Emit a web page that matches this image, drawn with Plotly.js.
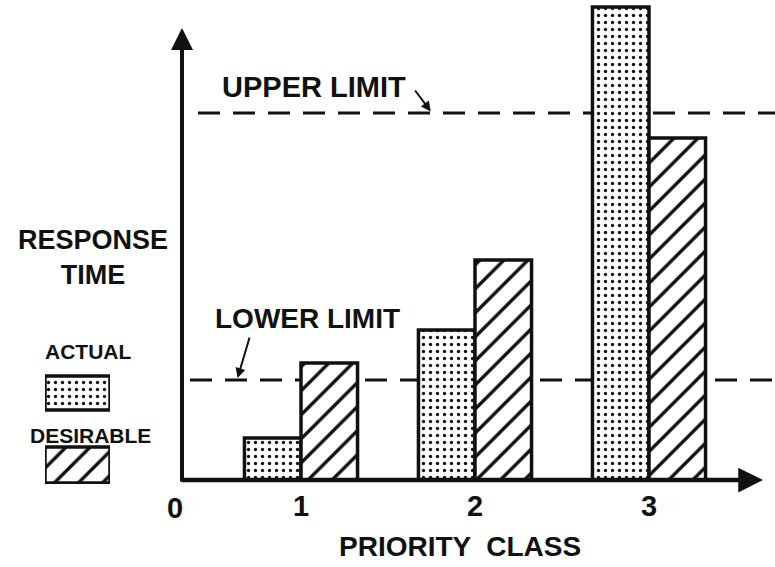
<!DOCTYPE html>
<html>
<head>
<meta charset="utf-8">
<script src="https://cdn.plot.ly/plotly-3.0.1.min.js"></script>
<style>html,body{margin:0;padding:0;background:#fff;}#chart{width:775px;height:567px;}</style>
</head>
<body>
<div id="chart"></div>
<script>
// ---- data ----
const classes = [1, 2, 3];
const classLabels = ['1', '2', '3'];
const actual = [4.2, 15.0, 47.3];
const desirable = [11.7, 22.0, 34.2];
const upperLimit = 36.7;
const lowerLimit = 10.0;
const legendNames = ['ACTUAL', 'DESIRABLE'];
const legendSlots = [91, 19];

const FONT = 'Liberation Sans, Arial, sans-serif';
const W = 775, H = 567;
const xDom = [182 / W, 1];
const yDom = [(H - 480) / H, (H - 5) / H];
const xRange = [1 - (301 - 182) / 174, 1 - (301 - 182) / 174 + (W - 182) / 174];

const dotPattern = {shape: '.', size: 7, solidity: 0.18, fgcolor: '#111', bgcolor: '#fff', fillmode: 'replace'};
const hatchPattern = {shape: '/', size: 17, solidity: 0.2, fgcolor: '#111', bgcolor: '#fff', fillmode: 'replace'};

const traces = [
  {type: 'bar', x: classes, y: actual, name: legendNames[0], showlegend: false,
   marker: {color: '#fff', pattern: dotPattern, line: {color: '#111', width: 3.5}}},
  {type: 'bar', x: classes, y: desirable, name: legendNames[1], showlegend: false,
   marker: {color: '#fff', pattern: hatchPattern, line: {color: '#111', width: 3.5}}},
  // legend swatches
  {type: 'bar', orientation: 'h', x: [1], y: [legendSlots[0]], width: 34, xaxis: 'x2', yaxis: 'y2', showlegend: false, hoverinfo: 'skip',
   marker: {color: '#fff', pattern: dotPattern, line: {color: '#111', width: 3.5}}},
  {type: 'bar', orientation: 'h', x: [1], y: [legendSlots[1]], width: 36, xaxis: 'x2', yaxis: 'y2', showlegend: false, hoverinfo: 'skip',
   marker: {color: '#fff', pattern: hatchPattern, line: {color: '#111', width: 3.5}}}
];

const yTip = 45.2;
const xTip = xRange[0] + (763 - 182) / 174;
const bold = {family: FONT, color: '#111', weight: 'bold'};

const layout = {
  width: W, height: H,
  margin: {l: 0, r: 0, t: 0, b: 0},
  paper_bgcolor: '#fff', plot_bgcolor: '#fff',
  barmode: 'group', bargap: 0.35, bargroupgap: 0,
  showlegend: false,
  font: {family: FONT, color: '#111'},
  xaxis: {domain: xDom, range: xRange, showgrid: false, zeroline: false, showline: false,
          tickvals: classes, ticktext: classLabels, ticks: '', tickfont: Object.assign({size: 29}, bold),
          ticklabelstandoff: 6},
  yaxis: {domain: yDom, range: [0, 47.5], showgrid: false, zeroline: false, showline: false, showticklabels: false, ticks: ''},
  xaxis2: {domain: [45 / W, 110 / W], range: [0, 1], anchor: 'y2', visible: false, fixedrange: true},
  yaxis2: {domain: [(H - 484) / H, (H - 372) / H], range: [0, 112], anchor: 'x2', visible: false, fixedrange: true},
  shapes: [
    {type: 'line', layer: 'below', xref: 'paper', yref: 'y', x0: 198 / W, x1: 1, y0: upperLimit, y1: upperLimit,
     line: {color: '#111', width: 3, dash: '22px,13px'}},
    {type: 'line', layer: 'below', xref: 'paper', yref: 'y', x0: 190 / W, x1: 1, y0: lowerLimit, y1: lowerLimit,
     line: {color: '#111', width: 3, dash: '22px,13px'}}
  ],
  annotations: [
    // axes with arrows
    {xref: 'x', yref: 'y', x: xRange[0], y: yTip, ax: 0, ay: 455, axref: 'pixel', ayref: 'pixel', text: '', showarrow: true,
     arrowhead: 2, arrowsize: 1.1, arrowwidth: 4, arrowcolor: '#111', standoff: 0},
    {xref: 'x', yref: 'y', x: xTip, y: 0, ax: -(763 - 180), ay: 0, text: '', showarrow: true,
     arrowhead: 2, arrowsize: 1.1, arrowwidth: 4.5, arrowcolor: '#111', standoff: 0},
    {xref: 'paper', yref: 'paper', x: 175 / W, y: (H - 508) / H, text: '0', showarrow: false,
     font: Object.assign({size: 29}, bold), xanchor: 'center', yanchor: 'middle'},
    // axis titles
    {xref: 'paper', yref: 'paper', x: 460 / W, y: (H - 546) / H, text: 'PRIORITY  CLASS', showarrow: false,
     font: Object.assign({size: 28}, bold), xanchor: 'center', yanchor: 'middle'},
    {xref: 'paper', yref: 'paper', x: 93 / W, y: (H - 257) / H, text: 'RESPONSE<br>TIME', showarrow: false,
     font: Object.assign({size: 27}, bold), xanchor: 'center', yanchor: 'middle', align: 'center'},
    // limit labels
    {xref: 'paper', yref: 'y', x: 314 / W, y: upperLimit, text: 'UPPER LIMIT', showarrow: true,
     ax: 0, ay: -26, axref: 'pixel', ayref: 'pixel', arrowcolor: 'rgba(0,0,0,0)',
     font: Object.assign({size: 29}, bold)},
    {xref: 'paper', yref: 'y', x: 432 / W, y: upperLimit, ax: 414 - 432, ay: -24, text: '', showarrow: true,
     arrowhead: 2, arrowsize: 1, arrowwidth: 2, arrowcolor: '#111', standoff: 2},
    {xref: 'paper', yref: 'y', x: 307 / W, y: lowerLimit, text: 'LOWER LIMIT', showarrow: true,
     ax: 0, ay: -62, axref: 'pixel', ayref: 'pixel', arrowcolor: 'rgba(0,0,0,0)',
     font: Object.assign({size: 28}, bold)},
    {xref: 'paper', yref: 'y', x: 237 / W, y: lowerLimit, ax: 250 - 237, ay: -44, text: '', showarrow: true,
     arrowhead: 2, arrowsize: 1, arrowwidth: 2, arrowcolor: '#111', standoff: 2},
    // legend labels
    {xref: 'paper', yref: 'paper', x: 88 / W, y: (H - 351) / H, text: legendNames[0], showarrow: false,
     font: Object.assign({size: 21}, bold), xanchor: 'center', yanchor: 'middle'},
    {xref: 'paper', yref: 'paper', x: 90 / W, y: (H - 435) / H, text: legendNames[1], showarrow: false,
     font: Object.assign({size: 21}, bold), xanchor: 'center', yanchor: 'middle'}
  ]
};

Plotly.newPlot('chart', traces, layout, {staticPlot: true, displayModeBar: false});
</script>
</body>
</html>
